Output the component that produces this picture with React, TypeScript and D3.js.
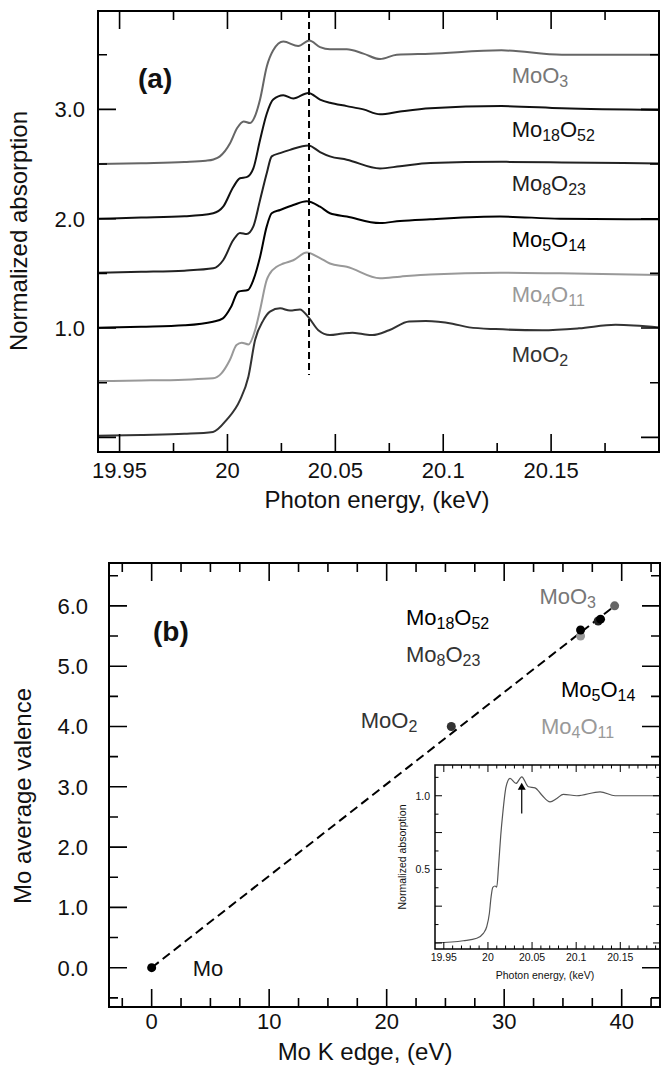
import React from "react";
import * as d3 from "d3";

type Pt = [number, number];

const FONT = "'Liberation Sans', Arial, Helvetica, sans-serif";

// ---------- Panel (a): Mo K-edge XANES, normalized absorption (edge step = 1) ----------
const spectrumMoO3: Pt[] = [
  [19.94, 0.0], [19.96, 0.008], [19.98, 0.018], [19.99, 0.03], [19.9935, 0.042],
  [19.9965, 0.07], [20.0012, 0.19], [20.0045, 0.33], [20.0075, 0.39], [20.0105, 0.375],
  [20.013, 0.45], [20.0151, 0.59], [20.0182, 0.89], [20.0212, 1.04], [20.0259, 1.12],
  [20.0328, 1.08], [20.0379, 1.13], [20.0429, 1.07], [20.0475, 1.05], [20.0553, 1.05],
  [20.063, 1.01], [20.0707, 0.96], [20.0785, 1.0], [20.094, 1.01], [20.127, 1.04],
  [20.155, 1.0], [20.2, 1.0],
];
const spectrumMo18O52: Pt[] = [
  [19.94, 0.0], [19.96, 0.01], [19.98, 0.022], [19.9934, 0.05], [19.998, 0.11],
  [20.0027, 0.29], [20.0058, 0.37], [20.0089, 0.38], [20.012, 0.46], [20.0151, 0.72],
  [20.0182, 0.96], [20.0212, 1.09], [20.0259, 1.13], [20.0305, 1.1], [20.0375, 1.15],
  [20.0429, 1.09], [20.0475, 1.06], [20.0553, 1.03], [20.063, 1.0], [20.0707, 0.955],
  [20.08, 0.98], [20.094, 1.01], [20.127, 1.03], [20.155, 1.01], [20.2, 0.995],
];
const spectrumMo8O23: Pt[] = [
  [19.94, 0.006], [19.96, 0.014], [19.98, 0.025], [19.9934, 0.046], [19.998, 0.12],
  [20.0027, 0.305], [20.0058, 0.37], [20.0089, 0.36], [20.012, 0.43], [20.0151, 0.67],
  [20.0182, 0.915], [20.0205, 1.07], [20.0244, 1.1], [20.029, 1.13], [20.0375, 1.17],
  [20.0429, 1.11], [20.0475, 1.07], [20.0553, 1.04], [20.0707, 0.96], [20.08, 0.98],
  [20.094, 1.01], [20.127, 1.02], [20.155, 1.015], [20.2, 1.005],
];
const spectrumMo5O14: Pt[] = [
  [19.94, 0.003], [19.96, 0.012], [19.98, 0.025], [19.9933, 0.058], [19.9979, 0.089],
  [20.0017, 0.195], [20.005, 0.332], [20.0095, 0.348], [20.012, 0.44], [20.0151, 0.65],
  [20.0182, 0.93], [20.0205, 1.05], [20.0244, 1.08], [20.0305, 1.125], [20.0367, 1.16],
  [20.0429, 1.11], [20.0475, 1.05], [20.0553, 1.02], [20.0707, 0.96], [20.08, 0.98],
  [20.094, 0.995], [20.1263, 1.02], [20.1541, 1.0], [20.2, 0.995],
];
const spectrumMo4O11: Pt[] = [
  [19.94, 0.015], [19.96, 0.02], [19.98, 0.028], [19.9933, 0.04], [19.9972, 0.085],
  [20.0011, 0.207], [20.0042, 0.345], [20.0066, 0.366], [20.0097, 0.35], [20.0128, 0.48],
  [20.0151, 0.665], [20.0182, 0.94], [20.0197, 1.0], [20.0228, 1.06], [20.0259, 1.09],
  [20.0305, 1.12], [20.0367, 1.19], [20.0429, 1.14], [20.0475, 1.09], [20.0553, 1.06],
  [20.0707, 0.955], [20.08, 0.97], [20.094, 0.99], [20.1263, 1.006], [20.1541, 1.0],
  [20.2, 0.985],
];
const spectrumMoO2: Pt[] = [
  [19.94, 0.015], [19.96, 0.022], [19.98, 0.032], [19.9933, 0.05], [19.9996, 0.16],
  [20.0058, 0.34], [20.0097, 0.555], [20.0128, 0.89], [20.0166, 1.07], [20.0197, 1.15],
  [20.0244, 1.18], [20.029, 1.16], [20.0336, 1.17], [20.0375, 1.1], [20.0421, 0.98],
  [20.0475, 0.936], [20.0533, 0.95], [20.0579, 0.957], [20.0626, 0.945], [20.0672, 0.936],
  [20.0749, 0.98], [20.0842, 1.06], [20.0919, 1.064], [20.1043, 1.04], [20.112, 1.006],
  [20.1243, 0.99], [20.1459, 0.98], [20.1629, 0.997], [20.1799, 1.03], [20.2, 1.006],
];

const spectra = [spectrumMoO3, spectrumMo18O52, spectrumMo8O23, spectrumMo5O14, spectrumMo4O11, spectrumMoO2];
const spectrumNames = ["MoO3", "Mo18O52", "Mo8O23", "Mo5O14", "Mo4O11", "MoO2"];
const spectrumOffsets = [2.5, 2.0, 1.5, 1.0, 0.5, 0.0];
const spectrumColors = ["#666666", "#111111", "#222222", "#000000", "#999999", "#333333"];
const spectrumLabelColors = ["#777777", "#111111", "#222222", "#000000", "#999999", "#333333"];
const spectrumLabelLift = [0.74, 0.75, 0.75, 0.745, 0.735, 0.685];
const spectrumLabelEnergy = 20.1317;
const markerEnergy = 20.0378;
const markerBottom = 0.57;

const energyTickLabels = ["19.95", "20", "20.05", "20.1", "20.15"];
const absorptionTickLabels = ["1.0", "2.0", "3.0"];

// ---------- Panel (b): Mo average valence vs. K-edge shift ----------
const compounds = ["Mo", "MoO2", "Mo4O11", "Mo5O14", "Mo8O23", "Mo18O52", "MoO3"];
const edgeShift = [0, 25.5, 36.5, 36.5, 38.0, 38.2, 39.4];
const valence = [0, 4.0, 5.5, 5.6, 5.75, 5.78, 6.0];
const compoundColors = ["#000000", "#333333", "#999999", "#000000", "#222222", "#000000", "#666666"];
const compoundLabelColors = ["#111111", "#333333", "#999999", "#000000", "#333333", "#000000", "#777777"];
const compoundLabelAt: Pt[] = [
  [3.49, -0.13], [17.79, 3.97], [33.13, 3.87], [34.83, 4.49], [21.64, 5.07], [21.64, 5.68], [33.0, 6.03],
];
const shiftTickLabels = ["0", "10", "20", "30", "40"];
const valenceTickLabels = ["0.0", "1.0", "2.0", "3.0", "4.0", "5.0", "6.0"];

// Inset: single MoO3 spectrum
const insetSpectrum: Pt[] = [
  [19.94, 0.0], [19.972, 0.015], [19.9873, 0.032], [19.9948, 0.065], [19.9986, 0.11],
  [20.0016, 0.2], [20.0035, 0.31], [20.0055, 0.378], [20.008, 0.387], [20.01, 0.38],
  [20.012, 0.52], [20.0145, 0.73], [20.0168, 0.88], [20.0205, 1.06], [20.025, 1.118],
  [20.0318, 1.084], [20.0383, 1.129], [20.0458, 1.061], [20.0534, 1.054], [20.061, 1.005],
  [20.0704, 0.959], [20.078, 0.982], [20.0855, 1.01], [20.1007, 1.0], [20.1271, 1.027],
  [20.1441, 1.0], [20.1951, 1.0],
];
const insetArrowEnergy = 20.0383;
const insetArrowFrom = 0.88;
const insetArrowTo = 1.088;
const insetYTickLabels = ["0.5", "1.0"];

// ---------- layout ----------
const A = { left: 98, right: 659, top: 11, bottom: 452 };
const B = { left: 109, right: 660, top: 563, bottom: 1007 };
const I = { left: 435, right: 660, top: 765, bottom: 949 };

const xA = d3.scaleLinear().domain([19.94, 20.2]).range([A.left, A.right]);
const yA = d3.scaleLinear().domain([-0.134, 3.9]).range([A.bottom, A.top]);
const xB = d3.scaleLinear().domain([-3.63, 43.26]).range([B.left, B.right]);
const yB = d3.scaleLinear().domain([-0.652, 6.711]).range([B.bottom, B.top]);
const xI = d3.scaleLinear().domain([19.94, 20.195]).range([I.left, I.right]);
const yI = d3.scaleLinear().domain([-0.041, 1.209]).range([I.bottom, I.top]);

function steps(start: number, stop: number, step: number): number[] {
  const n = Math.round((stop - start) / step);
  return d3.range(n + 1).map((i) => +(start + i * step).toFixed(6));
}
const isMultiple = (v: number, m: number) => Math.abs(v / m - Math.round(v / m)) < 1e-6;

type Box = { left: number; right: number; top: number; bottom: number };

function Ticks({
  box, xs, ys, xVals, yVals, xMajor, yMajor, majorLen, minorLen, width,
}: {
  box: Box; xs: d3.ScaleLinear<number, number>; ys: d3.ScaleLinear<number, number>;
  xVals: number[]; yVals: number[]; xMajor: number; yMajor: number;
  majorLen: number; minorLen: number; width: number;
}) {
  const segs: string[] = [];
  xVals.forEach((v) => {
    const L = isMultiple(v, xMajor) ? majorLen : minorLen;
    const px = xs(v);
    segs.push(`M${px},${box.bottom}V${box.bottom - L}`);
    segs.push(`M${px},${box.top}V${box.top + L}`);
  });
  yVals.forEach((v) => {
    const L = isMultiple(v, yMajor) ? majorLen : minorLen;
    const py = ys(v);
    segs.push(`M${box.left},${py}H${box.left + L}`);
    segs.push(`M${box.right},${py}H${box.right - L}`);
  });
  return <path d={segs.join("")} stroke="#000" strokeWidth={width} fill="none" />;
}

function Formula({
  text, x, y, size, subSize, fill, shift = 4,
}: { text: string; x: number; y: number; size: number; subSize: number; fill: string; shift?: number }) {
  const parts = text.match(/\d+|\D+/g) || [];
  let lowered = false;
  return (
    <text x={x} y={y} fontSize={size} fill={fill}>
      {parts.map((p, i) => {
        const num = /\d/.test(p);
        const dy = num ? (lowered ? 0 : shift) : lowered ? -shift : 0;
        lowered = num;
        return (
          <tspan key={i} dy={dy} fontSize={num ? subSize : size}>
            {p}
          </tspan>
        );
      })}
    </text>
  );
}

export default function App() {
  const lineA = (offset: number) =>
    d3.line<Pt>().x((d) => xA(d[0])).y((d) => yA(d[1] + offset)).curve(d3.curveMonotoneX);
  const lineI = d3.line<Pt>().x((d) => xI(d[0])).y((d) => yI(d[1])).curve(d3.curveMonotoneX);

  const energyMajor = [19.95, 20, 20.05, 20.1, 20.15];
  const absMajor = [1, 2, 3];
  const shiftMajor = [0, 10, 20, 30, 40];
  const valMajor = [0, 1, 2, 3, 4, 5, 6];

  const last = compounds.length - 1;

  return (
    <svg
      width={661}
      height={1085}
      style={{ position: "absolute", left: 0, top: 0, background: "#fff" }}
      fontFamily={FONT}
    >
      <rect x={0} y={0} width={661} height={1085} fill="#fff" />

      {/* ----- panel (a) ----- */}
      <g>
        {spectra.map((s, i) => (
          <path
            key={spectrumNames[i]}
            d={lineA(spectrumOffsets[i])(s) || ""}
            fill="none"
            stroke={spectrumColors[i]}
            strokeWidth={2}
            strokeLinejoin="round"
          />
        ))}
        <line
          x1={xA(markerEnergy)}
          x2={xA(markerEnergy)}
          y1={A.top}
          y2={yA(markerBottom)}
          stroke="#000"
          strokeWidth={2}
          strokeDasharray="7,4"
        />
        {spectrumNames.map((n, i) => (
          <Formula
            key={n}
            text={n}
            x={xA(spectrumLabelEnergy)}
            y={yA(spectrumOffsets[i] + spectrumLabelLift[i])}
            size={22}
            subSize={16}
            fill={spectrumLabelColors[i]}
          />
        ))}
        <Ticks
          box={A}
          xs={xA}
          ys={yA}
          xVals={steps(19.95, 20.175, 0.025)}
          yVals={steps(0, 3.5, 0.5)}
          xMajor={0.05}
          yMajor={1}
          majorLen={18}
          minorLen={9}
          width={1.6}
        />
        <rect x={A.left} y={A.top} width={A.right - A.left} height={A.bottom - A.top} fill="none" stroke="#000" strokeWidth={2} />
        {energyMajor.map((v, i) => (
          <text key={v} x={xA(v)} y={478} fontSize={22} textAnchor="middle" fill="#111">
            {energyTickLabels[i]}
          </text>
        ))}
        {absMajor.map((v, i) => (
          <text key={v} x={85} y={yA(v)} dy="0.36em" fontSize={22} textAnchor="end" fill="#111">
            {absorptionTickLabels[i]}
          </text>
        ))}
        <text x={138} y={88} fontSize={28} fontWeight="bold" fill="#111">(a)</text>
        <text x={377} y={508} fontSize={24} textAnchor="middle" fill="#111">Photon energy, (keV)</text>
        <text transform="translate(27,231) rotate(-90)" fontSize={24} textAnchor="middle" fill="#111">
          Normalized absorption
        </text>
      </g>

      {/* ----- panel (b) ----- */}
      <g>
        <line
          x1={xB(edgeShift[0])}
          y1={yB(valence[0])}
          x2={xB(edgeShift[last])}
          y2={yB(valence[last])}
          stroke="#000"
          strokeWidth={2}
          strokeDasharray="9,5"
        />
        {compounds.map((c, i) => (
          <circle key={c} cx={xB(edgeShift[i])} cy={yB(valence[i])} r={4.5} fill={compoundColors[i]} />
        ))}
        {compounds.map((c, i) => (
          <Formula
            key={c}
            text={c}
            x={xB(compoundLabelAt[i][0])}
            y={yB(compoundLabelAt[i][1])}
            size={22}
            subSize={16}
            fill={compoundLabelColors[i]}
          />
        ))}
        <Ticks
          box={B}
          xs={xB}
          ys={yB}
          xVals={steps(-2.5, 42.5, 2.5)}
          yVals={steps(-0.5, 6.5, 0.5)}
          xMajor={10}
          yMajor={1}
          majorLen={18}
          minorLen={9}
          width={1.6}
        />

        {/* inset */}
        <rect x={I.left} y={I.top} width={I.right - I.left} height={I.bottom - I.top} fill="#fff" />
        <path d={lineI(insetSpectrum) || ""} fill="none" stroke="#555" strokeWidth={1.2} />
        <line
          x1={xI(insetArrowEnergy)}
          x2={xI(insetArrowEnergy)}
          y1={yI(insetArrowFrom)}
          y2={yI(insetArrowTo) + 6}
          stroke="#000"
          strokeWidth={1.2}
        />
        <path
          d={`M${xI(insetArrowEnergy)},${yI(insetArrowTo)}l-4,7h8z`}
          fill="#000"
        />
        <Ticks
          box={I}
          xs={xI}
          ys={yI}
          xVals={steps(19.95, 20.19, 0.01)}
          yVals={steps(0, 1.125, 0.125)}
          xMajor={0.05}
          yMajor={0.25}
          majorLen={7}
          minorLen={3.5}
          width={1}
        />
        <rect x={I.left} y={I.top} width={I.right - I.left} height={I.bottom - I.top} fill="none" stroke="#000" strokeWidth={1.5} />
        {energyMajor.map((v, i) => (
          <text key={v} x={xI(v)} y={961} fontSize={10.5} textAnchor="middle" fill="#111">
            {energyTickLabels[i]}
          </text>
        ))}
        {[0.5, 1.0].map((v, i) => (
          <text key={v} x={430} y={yI(v)} dy="0.36em" fontSize={10.5} textAnchor="end" fill="#111">
            {insetYTickLabels[i]}
          </text>
        ))}
        <text x={545} y={979} fontSize={10.5} textAnchor="middle" fill="#111">Photon energy, (keV)</text>
        <text transform="translate(406,857) rotate(-90)" fontSize={10.5} textAnchor="middle" fill="#111">
          Normalized absorption
        </text>

        <rect x={B.left} y={B.top} width={B.right - B.left} height={B.bottom - B.top} fill="none" stroke="#000" strokeWidth={2} />
        {shiftMajor.map((v, i) => (
          <text key={v} x={xB(v)} y={1029} fontSize={22} textAnchor="middle" fill="#111">
            {shiftTickLabels[i]}
          </text>
        ))}
        {valMajor.map((v, i) => (
          <text key={v} x={88} y={yB(v)} dy="0.36em" fontSize={22} textAnchor="end" fill="#111">
            {valenceTickLabels[i]}
          </text>
        ))}
        <text x={153} y={641} fontSize={28} fontWeight="bold" fill="#111">(b)</text>
        <text x={365} y={1060} fontSize={24} textAnchor="middle" fill="#111">Mo K edge, (eV)</text>
        <text transform="translate(31,796) rotate(-90)" fontSize={24} textAnchor="middle" fill="#111">
          Mo average valence
        </text>
      </g>
    </svg>
  );
}
